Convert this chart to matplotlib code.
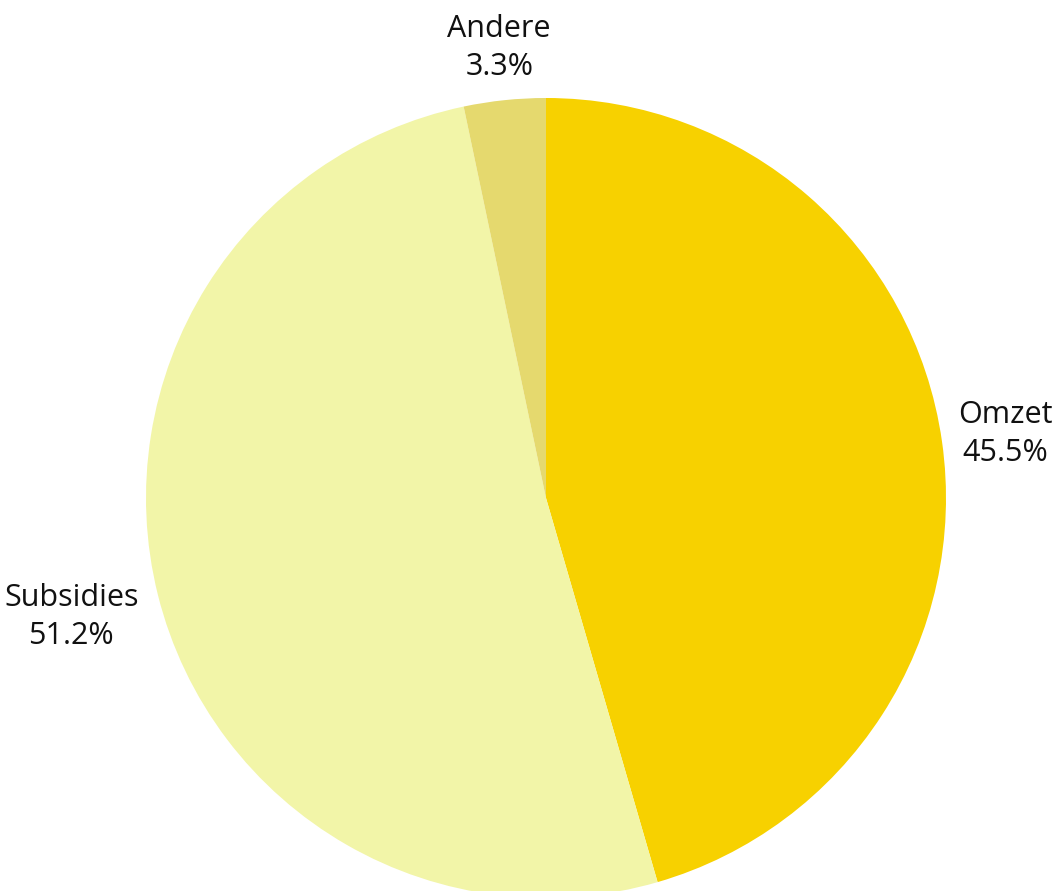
import matplotlib
matplotlib.use("Agg")
import matplotlib.pyplot as plt
import numpy as np

# data
labels = ["Omzet", "Subsidies", "Andere"]
values = [45.5, 51.2, 3.3]
colors = ["#F7D100", "#F2F5A8", "#E5D96E"]

plt.rcParams['font.family'] = ['Open Sans', 'DejaVu Sans']

fig = plt.figure(figsize=(10.53, 8.91), dpi=100)
ax = fig.add_axes([0, 0, 1, 1])

wedges, _ = ax.pie(values, colors=colors, startangle=90, counterclock=False,
                   radius=1.0, wedgeprops=dict(linewidth=0))

# label distances (relative to radius), alignment and small nudges (points)
label_dist = [1.04, 1.05, 1.13]
label_ha = ["left", "right", "center"]
label_dy = [4, -12, 0]
for w, lab, val, d, ha, dy in zip(wedges, labels, values, label_dist, label_ha, label_dy):
    ang = np.deg2rad((w.theta1 + w.theta2) / 2)
    x, y = d * np.cos(ang), d * np.sin(ang)
    ax.annotate(f"{lab}\n{val:.1f}%", (x, y), xytext=(0, dy), textcoords="offset points",
                ha=ha, va="center", multialignment="center",
                fontsize=22, color="#111111", linespacing=1.35)

ax.set_xlim(-1.365, 1.2675)
ax.set_ylim(-0.9825, 1.245)
ax.set_aspect("auto")
ax.axis("off")

fig.savefig("out.png", dpi=100)
